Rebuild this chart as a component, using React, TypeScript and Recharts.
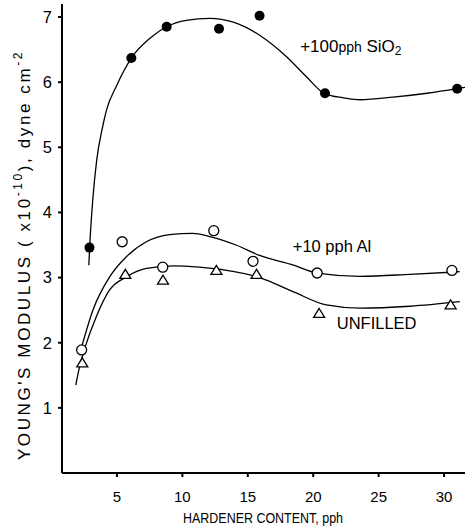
import React from 'react';
import { ComposedChart, Line, Scatter, XAxis, YAxis, ReferenceDot } from 'recharts';

// Measured points
const sio2X = [2.9, 6.1, 8.8, 12.8, 15.9, 20.9, 31.0];
const sio2Y = [3.46, 6.37, 6.85, 6.82, 7.02, 5.83, 5.9];

const alX = [2.3, 5.4, 8.5, 12.4, 15.4, 20.3, 30.6];
const alY = [1.89, 3.55, 3.16, 3.72, 3.25, 3.07, 3.11];

const unfX = [2.35, 5.64, 8.52, 12.6, 15.67, 20.45, 30.5];
const unfY = [1.69, 3.05, 2.96, 3.11, 3.05, 2.45, 2.58];

// Hand-drawn fitted curves
const sio2CurveX = [2.85, 2.95, 3.15, 3.45, 3.9, 4.2, 4.98, 6.1, 7.5, 8.78, 10.3, 12.1, 13.9, 15.9, 17.96, 19.5, 20.9, 22.3, 23.6, 26.1, 28.7, 31.0, 31.6];
const sio2CurveY = [3.19, 3.6, 4.19, 4.8, 5.31, 5.57, 5.95, 6.37, 6.67, 6.85, 6.95, 6.98, 6.92, 6.72, 6.39, 6.08, 5.82, 5.76, 5.73, 5.77, 5.83, 5.9, 5.92];

const alCurveX = [2.25, 3.16, 4.44, 5.72, 7.25, 9.03, 10.8, 12.1, 14.1, 15.9, 18.5, 20.3, 23.6, 27.4, 31.2];
const alCurveY = [1.9, 2.5, 3.01, 3.32, 3.55, 3.66, 3.68, 3.63, 3.5, 3.34, 3.19, 3.07, 3.02, 3.05, 3.09];

const unfCurveX = [1.85, 2.2, 2.53, 3.42, 4.44, 5.72, 7.25, 9.3, 11.3, 13.4, 15.9, 18.5, 21.0, 23.6, 27.4, 31.2];
const unfCurveY = [1.35, 1.68, 1.91, 2.4, 2.81, 3.01, 3.14, 3.18, 3.16, 3.11, 3.0, 2.78, 2.58, 2.53, 2.56, 2.63];

const xTicks = [5, 10, 15, 20, 25, 30];
const yTicks = [1, 2, 3, 4, 5, 6, 7];

const toPts = (xs: number[], ys: number[]) => xs.map((x, i) => ({ x, y: ys[i] }));

const sio2Pts = toPts(sio2X, sio2Y);
const alPts = toPts(alX, alY);
const unfPts = toPts(unfX, unfY);
const sio2Curve = toPts(sio2CurveX, sio2CurveY);
const alCurve = toPts(alCurveX, alCurveY);
const unfCurve = toPts(unfCurveX, unfCurveY);

const FONT = '"Liberation Sans", Arial, sans-serif';

const FilledDot = (p: any) => <circle cx={p.cx} cy={p.cy} r={5} fill="#000" stroke="none" />;
const OpenDot = (p: any) => <circle cx={p.cx} cy={p.cy} r={5} fill="#fff" stroke="#000" strokeWidth={1.3} />;
const OpenTri = (p: any) => {
  const { cx, cy } = p;
  return (
    <polygon
      points={`${cx},${cy - 5} ${cx - 5.5},${cy + 4} ${cx + 5.5},${cy + 4}`}
      fill="#fff"
      stroke="#000"
      strokeWidth={1.3}
    />
  );
};

const textLabel = (content: React.ReactNode, size: number) => (props: any) => {
  const vb = props.viewBox || {};
  const x = vb.x ?? 0;
  const y = vb.y ?? 0;
  return (
    <text x={x} y={y} fontFamily={FONT} fontSize={size} fill="#000" dominantBaseline="middle" textAnchor="start">
      {content}
    </text>
  );
};

const YLabel = (props: any) => {
  const cx = 26;
  const cy = 255;
  return (
    <text
      x={cx}
      y={cy}
      transform={`rotate(-90, ${cx}, ${cy})`}
      fontFamily={FONT}
      fontSize={17}
      letterSpacing={2.6}
      fill="#000"
      textAnchor="middle"
      dominantBaseline="middle"
    >
      <tspan>YOUNG'S MODULUS ( x10</tspan>
      <tspan dy={-7} fontSize={12}>-10</tspan>
      <tspan dy={7}>), dyne cm</tspan>
      <tspan dy={-7} fontSize={12}>-2</tspan>
    </text>
  );
};

const XLabel = (props: any) => (
  <text
    x={263}
    y={519}
    fontFamily={FONT}
    fontSize={14}
    textLength={160}
    lengthAdjust="spacingAndGlyphs"
    fill="#000"
    textAnchor="middle"
    dominantBaseline="middle"
  >
    HARDENER CONTENT, pph
  </text>
);

export default function App() {
  return (
    <div style={{ position: 'absolute', left: 0, top: 0, background: '#fff' }}>
      <ComposedChart width={466} height={530} margin={{ top: 4, right: 1, bottom: 27, left: 22 }}>
        <XAxis
          type="number"
          dataKey="x"
          domain={[0.8, 31.6]}
          ticks={xTicks}
          allowDataOverflow
          stroke="#000"
          strokeWidth={2}
          tickSize={4}
          tickMargin={14}
          height={30}
          tick={{ fill: '#000', fontSize: 15, fontFamily: FONT }}
          label={{ content: XLabel }}
        />
        <YAxis
          type="number"
          dataKey="y"
          domain={[0, 7.2]}
          ticks={yTicks}
          allowDataOverflow
          stroke="#000"
          strokeWidth={2}
          tickSize={4}
          tickMargin={6}
          width={40}
          tick={{ fill: '#000', fontSize: 16.5, fontFamily: FONT }}
          label={{ content: YLabel }}
        />
        <Line data={sio2Curve} dataKey="y" type="monotone" stroke="#000" strokeWidth={1.3} dot={false} activeDot={false} isAnimationActive={false} />
        <Line data={alCurve} dataKey="y" type="monotone" stroke="#000" strokeWidth={1.3} dot={false} activeDot={false} isAnimationActive={false} />
        <Line data={unfCurve} dataKey="y" type="monotone" stroke="#000" strokeWidth={1.3} dot={false} activeDot={false} isAnimationActive={false} />
        <Scatter data={sio2Pts} dataKey="y" shape={FilledDot} isAnimationActive={false} />
        <Scatter data={alPts} dataKey="y" shape={OpenDot} isAnimationActive={false} />
        <Scatter data={unfPts} dataKey="y" shape={OpenTri} isAnimationActive={false} />
        <ReferenceDot
          x={19.0}
          y={6.53}
          r={0}
          stroke="none"
          label={{
            content: textLabel(
              <>
                <tspan>+100</tspan>
                <tspan fontSize={14}>pph</tspan>
                <tspan> SiO</tspan>
                <tspan dy={4} fontSize={12}>2</tspan>
              </>,
              17
            ),
          }}
        />
        <ReferenceDot
          x={18.44}
          y={3.45}
          r={0}
          stroke="none"
          label={{ content: textLabel(<tspan>+10 pph Al</tspan>, 16.5) }}
        />
        <ReferenceDot
          x={21.8}
          y={2.27}
          r={0}
          stroke="none"
          label={{ content: textLabel(<tspan>UNFILLED</tspan>, 16.5) }}
        />
      </ComposedChart>
    </div>
  );
}
